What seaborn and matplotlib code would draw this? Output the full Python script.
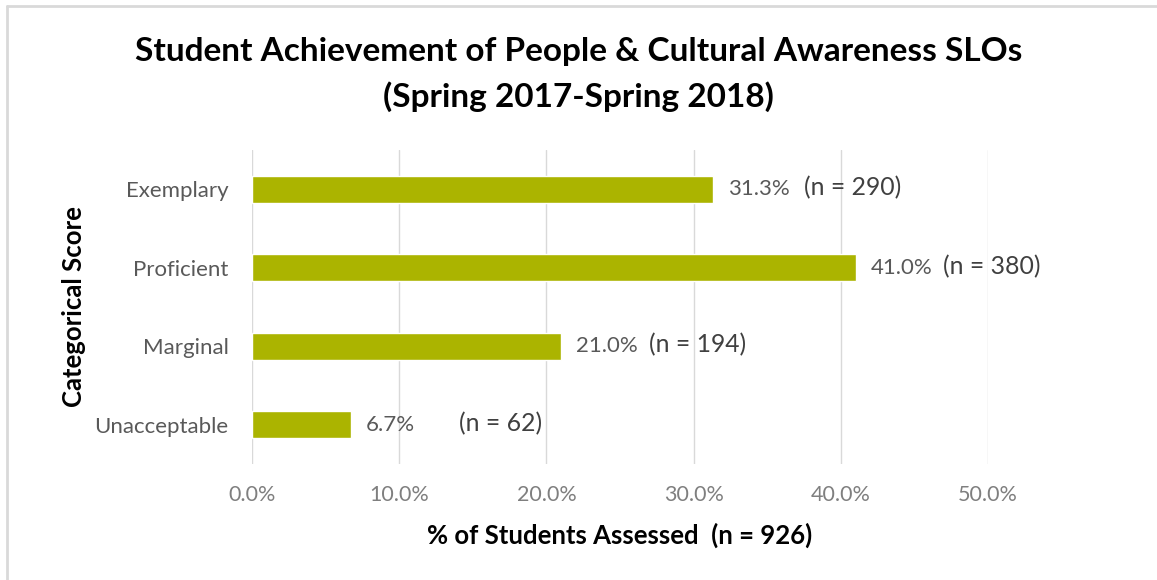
import matplotlib
matplotlib.use("Agg")
import matplotlib.pyplot as plt
from matplotlib.lines import Line2D
import seaborn as sns
import pandas as pd

categories = ["Exemplary", "Proficient", "Marginal", "Unacceptable"]
percent = [31.3, 41.0, 21.0, 6.7]
counts = [290, 380, 194, 62]
x_ticks = [0, 10, 20, 30, 40, 50]
total_n = 926

# horizontal gap (points) between a bar's end and its "(n = ...)" note
n_offsets = [66, 63, 63, 78]

sns.set_theme(style="white")
plt.rcParams["font.family"] = ["Lato", "DejaVu Sans"]

df = pd.DataFrame({"category": categories, "percent": percent})

fig = plt.figure(figsize=(11.57, 5.80), dpi=100)
ax = fig.add_axes([252 / 1157, 1 - 464 / 580, (988 - 252) / 1157, (464 - 150) / 580])

bar_color = "#ABB400"
sns.barplot(data=df, x="percent", y="category", orient="h", color=bar_color,
            saturation=1, width=0.35, ax=ax, zorder=3)

ax.set_xlim(0, 50)
ax.set_ylim(3.5, -0.5)
ax.set_xticks(x_ticks)
ax.set_xticklabels([f"{t:.1f}%" for t in x_ticks], color="#7f7f7f", fontsize=15.5)
ax.tick_params(axis="x", length=0, pad=15)
ax.tick_params(axis="y", length=0, pad=17, labelsize=16, labelcolor="#595959")
ax.grid(axis="x", color="#d9d9d9", linewidth=1, zorder=0)
for s in ax.spines.values():
    s.set_visible(False)

ax.set_xlabel(f"% of Students Assessed  (n = {total_n})", fontsize=18.5,
              fontweight="bold", color="black", labelpad=13)
ax.set_ylabel("Categorical Score", fontsize=18.5, fontweight="bold",
              color="black", labelpad=6)

for i, (p, c, off) in enumerate(zip(percent, counts, n_offsets)):
    ax.annotate(f"{p:.1f}%", xy=(p, i), xytext=(11, 0), textcoords="offset points",
                va="center", ha="left", fontsize=16, color="#595959")
    ax.annotate(f"(n = {c})", xy=(p, i), xytext=(off, 1), textcoords="offset points",
                va="center", ha="left", fontsize=17.8, color="#404040")

fig.text(0.5, 1 - 52 / 580, "Student Achievement of People & Cultural Awareness SLOs",
         ha="center", va="center", fontsize=24, fontweight="bold", color="black")
fig.text(0.5, 1 - 97 / 580, "(Spring 2017-Spring 2018)",
         ha="center", va="center", fontsize=24, fontweight="bold", color="black")

# light frame along the top and left edges
fig.add_artist(Line2D([6.5 / 1157, 1], [1 - 6 / 580, 1 - 6 / 580],
                      transform=fig.transFigure, color="#d9d9d9", linewidth=2))
fig.add_artist(Line2D([6.5 / 1157, 6.5 / 1157], [0, 1 - 6 / 580],
                      transform=fig.transFigure, color="#d9d9d9", linewidth=2))

fig.savefig("out.png", dpi=100, facecolor="white")
